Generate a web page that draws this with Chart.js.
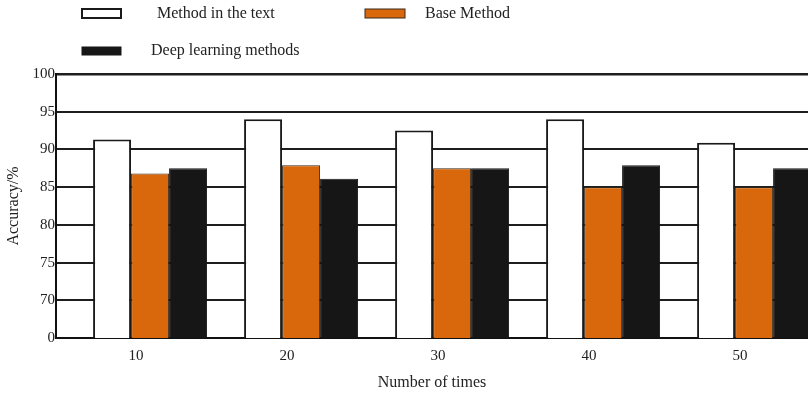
<!DOCTYPE html>
<html lang="en">
<head>
  <meta charset="UTF-8" />
  <title>Accuracy by number of times</title>
  <script src="https://cdn.jsdelivr.net/npm/chart.js"></script>
  <style>
    html, body { margin: 0; padding: 0; background: #fff; }
    #wrap { width: 808px; height: 396px; position: relative; }
  </style>
</head>
<body>
  <div id="wrap"><canvas id="chart"></canvas></div>

  <script>
    // data (y axis is broken: the "0" tick sits where 65 would be)
    const times = [10, 20, 30, 40, 50];
    const methodInText = [91.3, 94.0, 92.5, 94.0, 90.9];
    const baseMethod = [86.8, 87.9, 87.5, 85.0, 85.0];
    const deepLearning = [87.5, 86.1, 87.5, 87.9, 87.5];
    const yTicks = [65, 70, 75, 80, 85, 90, 95, 100];
    const yTickLabels = ['0', '70', '75', '80', '85', '90', '95', '100'];

    const serif = '"Liberation Serif", "DejaVu Serif", serif';
    const ink = '#222';

    function pts(arr) {
      return arr.map((v, i) => ({ x: times[i], y: v }));
    }

    // legend laid out like the figure: two rows, boxes on the left
    const legendSpots = [
      { box: [82, 9, 39, 9], textX: 157, textY: 14 },
      { box: [365, 9, 40, 9], textX: 425, textY: 14 },
      { box: [82, 47, 39, 8], textX: 151, textY: 51 }
    ];
    const figureLegend = {
      id: 'figureLegend',
      afterDraw(chart) {
        const ctx = chart.ctx;
        ctx.save();
        ctx.font = '16px ' + serif;
        ctx.textBaseline = 'middle';
        chart.data.datasets.forEach((ds, i) => {
          const s = legendSpots[i];
          const [x, y, w, h] = s.box;
          ctx.fillStyle = ds.backgroundColor;
          ctx.fillRect(x, y, w, h);
          ctx.lineWidth = ds.borderWidth;
          ctx.strokeStyle = ds.borderColor;
          ctx.strokeRect(x, y, w, h);
          ctx.fillStyle = ink;
          ctx.fillText(ds.label, s.textX, s.textY);
        });
        ctx.restore();
      }
    };

    const ctx = document.getElementById('chart').getContext('2d');
    new Chart(ctx, {
      type: 'bar',
      data: {
        datasets: [
          { label: 'Method in the text', data: pts(methodInText), backgroundColor: '#ffffff', borderColor: '#1a1a1a', borderWidth: 2 },
          { label: 'Base Method', data: pts(baseMethod), backgroundColor: '#d9680d', borderColor: '#3a2a1a', borderWidth: 1 },
          { label: 'Deep learning methods', data: pts(deepLearning), backgroundColor: '#161616', borderColor: '#161616', borderWidth: 1 }
        ]
      },
      options: {
        responsive: true,
        maintainAspectRatio: false,
        animation: false,
        layout: { padding: { top: 74, left: 0, right: 0, bottom: 0 } },
        datasets: { bar: { categoryPercentage: 0.755, barPercentage: 1.0 } },
        plugins: {
          legend: { display: false },
          tooltip: { enabled: false }
        },
        scales: {
          x: {
            type: 'linear',
            min: 3.77,
            max: 53.57,
            offset: false,
            afterFit(scale) { scale.height = 58; },
            grid: { display: false, drawTicks: false, offset: false },
            border: { display: true, color: '#111', width: 2 },
            ticks: {
              stepSize: 10,
              includeBounds: false,
              padding: 9,
              labelOffset: -14,
              color: ink,
              font: { family: serif, size: 15 }
            },
            title: {
              display: true,
              text: 'Number of times',
              color: ink,
              font: { family: serif, size: 16 },
              padding: { top: 4, bottom: 4 }
            }
          },
          y: {
            min: 65,
            max: 100,
            afterFit(scale) { scale.width = 56; },
            afterBuildTicks(scale) { scale.ticks = yTicks.map(v => ({ value: v })); },
            grid: {
              drawTicks: false,
              color: '#1e1e1e',
              lineWidth: c => (c.tick && c.tick.value === 100 ? 2.5 : 2)
            },
            border: { display: true, color: '#111', width: 2 },
            ticks: {
              padding: 1,
              color: ink,
              font: { family: serif, size: 15 },
              callback: v => yTickLabels[yTicks.indexOf(v)]
            },
            title: {
              display: true,
              text: 'Accuracy/%',
              color: ink,
              font: { family: serif, size: 16 },
              padding: { top: 4, bottom: 0 }
            }
          }
        }
      },
      plugins: [figureLegend]
    });
  </script>
</body>
</html>
